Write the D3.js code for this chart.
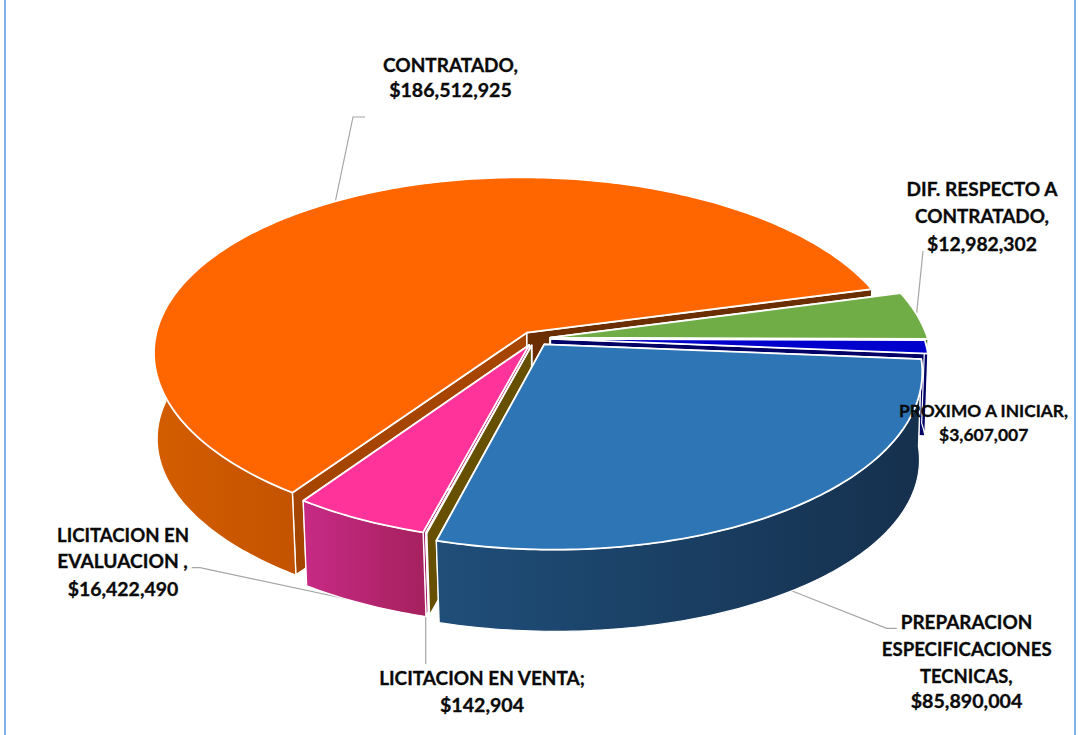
<!DOCTYPE html>
<html><head><meta charset="utf-8">
<script src="https://cdn.jsdelivr.net/npm/d3@7"></script>
<style>html,body{margin:0;padding:0;background:#fff}svg{display:block}</style>
</head><body><svg id="c" width="1078" height="735"></svg>
<script>
// data
const categories=["CONTRATADO","DIF. RESPECTO A CONTRATADO","PROXIMO A INICIAR","PREPARACION ESPECIFICACIONES TECNICAS","LICITACION EN VENTA","LICITACION EN EVALUACION"];
const values=[186512925,12982302,3607007,85890004,142904,16422490];
const topColors=["#FF6600","#70AD47","#0000CC","#2E75B6","#7F6000","#FF3399"];
const startFace=["#A64500","#4A7030","#000066","#1F4E79","#665000","#A6206A"];
const endFace=["#6B2E00","#4A7030","#000066","#1F4E79","#665000","#A6206A"];
const wallStops=[["#D35D00","#C45300"],["#4A7030","#4A7030"],["#000066","#000066"],["#1F4E79","#15304D"],["#665000","#665000"],["#C72A85","#A6215F"]];
const labelLines=[["CONTRATADO,","$186,512,925"],["DIF. RESPECTO A","CONTRATADO,","$12,982,302"],["PROXIMO A INICIAR,","$3,607,007"],["PREPARACION","ESPECIFICACIONES","TECNICAS,","$85,890,004"],["LICITACION EN VENTA;","$142,904"],["LICITACION EN","EVALUACION ,","$16,422,490"]];

// layout
const W=1078,H=735,cx=535.5,cy=338.5,rx=372,ry=177,persp=0.13,shear=0.04,shrinkX=0.992,lowShear=0.01,shrinkY=0.97,depth=87,explode=0.04;
const startDeg=215.4;
const paint=[0,1,2,5,4,3];
const radiusScale=[1,1.015,1.005,1,0.96,0.96];
const depthExtra=[0,0,-4,1,3,3];
const labelSize=[18.5,18.5,17.5,18.5,18.5,18.5];
const labelPos=[[[450.5,72,135],[450.5,96.7,122.7]],[[982,196,151],[982,223,134],[982,250.7,110]],[[983.5,416.7,169],[983.7,440.7,89.3]],[[966.5,629.3,131.6],[966.7,656,170],[966.3,682.7,92.7],[966.5,708.3,111.6]],[[482,685,205.7],[482,711.7,84]],[[123,541.7,132],[122.5,568,130.7],[123,595.7,110.6]]];
const leaders=[[[365,117],[353,117],[335,203]],[[923,251],[916.7,313]],[[191.7,567.7],[200,567.7],[361,602]],[[425.7,615],[425.7,664]],[[782.7,587.3],[886.7,628.3],[896.7,628.3]]];

const rad=d3.scaleLinear().domain([0,360]).range([0,2*Math.PI]);
const arcs=d3.pie().sort(null).value(d=>d).startAngle(rad(startDeg)).endAngle(rad(startDeg+360))(values);
const svg=d3.select("#c");
const defs=svg.append("defs");

function project(u,v,low,extra){
  const w=1/(1-persp*v);
  let x=cx+rx*u*w,y=cy+ry*v*w;
  x+=shear*(y-cy);
  if(low){x=cx+(x-cx)*shrinkX+lowShear*(y-cy);y=cy+(y-cy)*shrinkY+depth+(extra||0);}
  return [x,y];
}
const line=d3.line();
function slicePoints(d,i){
  const a0=d.startAngle-Math.PI/2,a1=d.endAngle-Math.PI/2,m=(a0+a1)/2,r=radiusScale[i];
  const ox=explode*Math.cos(m),oy=explode*Math.sin(m);
  const rim=(t,low)=>project(ox+r*Math.cos(t),oy+r*Math.sin(t),low,depthExtra[i]);
  const apex=low=>project(ox,oy,low,depthExtra[i]);
  return {a0,a1,rim,apex};
}
arcs.forEach((d,i)=>{
  const s=slicePoints(d,i);
  const n=Math.max(2,Math.ceil((s.a1-s.a0)*60));
  const ts=d3.range(n+1).map(k=>s.a0+(s.a1-s.a0)*k/n);
  const vis=ts.filter(t=>Math.sin(t)>=-0.12);
  const xs=(vis.length?vis:ts).map(t=>s.rim(t,false)[0]);
  const g=defs.append("linearGradient").attr("id","w"+i).attr("gradientUnits","userSpaceOnUse")
    .attr("x1",d3.min(xs)).attr("x2",d3.max(xs)).attr("y1",0).attr("y2",0);
  g.append("stop").attr("offset",0).attr("stop-color",wallStops[i][0]);
  g.append("stop").attr("offset",1).attr("stop-color",wallStops[i][1]);
});

function draw(path,fill,sw){
  return svg.append("path").attr("d",path).attr("fill",fill).attr("stroke","#fff").attr("stroke-width",sw||1.6).attr("stroke-linejoin","round");
}
const lg=svg.append("g");
leaders.forEach(l=>lg.append("path").attr("d",line(l)).attr("fill","none").attr("stroke","#A6A6A6").attr("stroke-width",1.2));

paint.forEach(i=>{
  const d=arcs[i],s=slicePoints(d,i);
  const n=Math.max(2,Math.ceil((s.a1-s.a0)*60));
  const ts=d3.range(n+1).map(k=>s.a0+(s.a1-s.a0)*k/n);
  const face=(t)=>line([s.apex(false),s.rim(t,false),s.rim(t,true),s.apex(true)])+"Z";
  draw(face(s.a0),startFace[i]);
  draw(face(s.a1),endFace[i]);
  const vis=ts.filter(t=>Math.sin(t)>=-0.12);
  if(vis.length>1){
    const poly=vis.map(t=>s.rim(t,false)).concat(vis.slice().reverse().map(t=>s.rim(t,true)));
    draw(line(poly)+"Z","url(#w"+i+")",1.2);
  }
  const top=[s.apex(false)].concat(ts.map(t=>s.rim(t,false)));
  draw(line(top)+"Z",topColors[i],i===4?1.4:1.8);
});

[5,1075].forEach(x=>svg.append("line").attr("x1",x).attr("x2",x).attr("y1",0).attr("y2",H).attr("stroke","#7FB2E5").attr("stroke-width",2));

labelLines.forEach((ls,i)=>ls.forEach((t,k)=>{
  const p=labelPos[i][k];
  svg.append("text").attr("x",p[0]).attr("y",p[1]).attr("text-anchor","middle")
    .attr("textLength",p[2]).attr("lengthAdjust","spacingAndGlyphs")
    .attr("font-family","Lato").attr("font-weight",700).attr("font-size",labelSize[i])
    .attr("fill","#0a0a0a").attr("stroke","#0a0a0a").attr("stroke-width",0.3).text(t);
}));
</script></body></html>
